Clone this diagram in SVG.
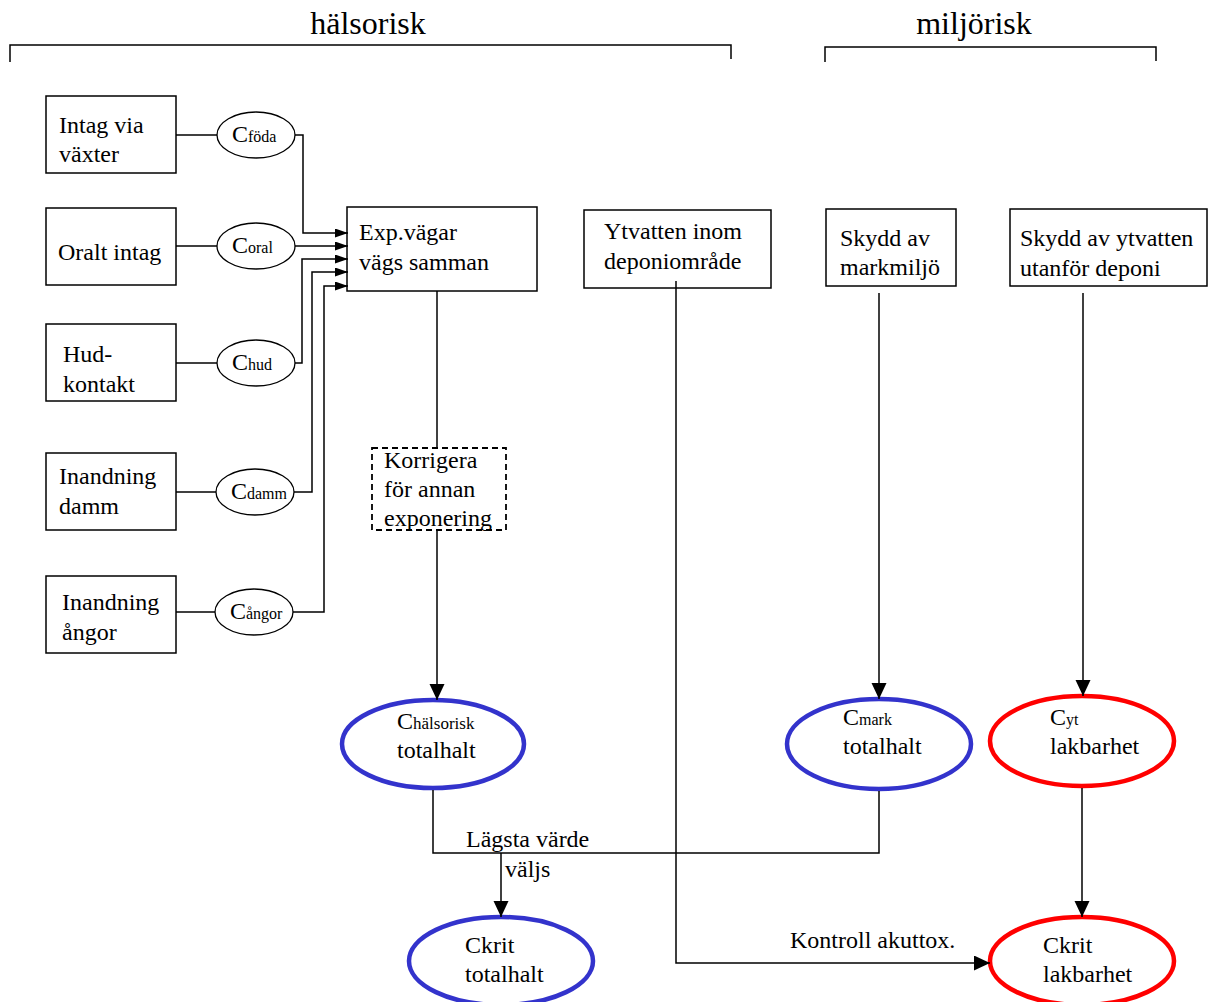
<svg xmlns="http://www.w3.org/2000/svg" width="1208" height="1002" viewBox="0 0 1208 1002">
<defs>
<style>
text{font-family:"Liberation Serif","Times New Roman",serif;font-size:24px;fill:#000}
.hdr{font-size:32px;text-anchor:middle}
.sub{font-size:16px}
.box{fill:#fff;stroke:#000;stroke-width:1.5}
.dash{fill:none;stroke:#000;stroke-width:1.8;stroke-dasharray:6,4}
.sm{fill:#fff;stroke:#000;stroke-width:1.3}
.blue{fill:#fff;stroke:#3333cc;stroke-width:4.5}
.red{fill:#fff;stroke:#ff0000;stroke-width:4.5}
.ln{fill:none;stroke:#000;stroke-width:1.5}
.a1{marker-end:url(#arS)}
.a2{marker-end:url(#arL)}
</style>
<marker id="arS" markerUnits="userSpaceOnUse" markerWidth="14" markerHeight="10" refX="13" refY="4.5" orient="auto"><path d="M0,0 L13,4.5 L0,9 z" fill="#000"/></marker>
<marker id="arL" markerUnits="userSpaceOnUse" markerWidth="17" markerHeight="16" refX="16" refY="7.5" orient="auto"><path d="M0,0 L16,7.5 L0,15 z" fill="#000"/></marker>
</defs>
<rect width="1208" height="1002" fill="#fff"/>
<g id="headers">
<text class="hdr" x="368" y="34">hälsorisk</text>
<path class="ln" d="M10,62 V45 H731 V59"/>
<text class="hdr" x="974" y="34">miljörisk</text>
<path class="ln" d="M825,62 V47 H1156 V61"/>
</g>
<g id="intag-vaxter"><rect class="box" x="46" y="96" width="130" height="77"/><text x="59" y="133">Intag via</text><text x="59" y="162">växter</text></g>
<g id="oralt-intag"><rect class="box" x="46" y="208" width="130" height="77"/><text x="58" y="260">Oralt intag</text></g>
<g id="hudkontakt"><rect class="box" x="46" y="324" width="130" height="77"/><text x="63" y="362">Hud-</text><text x="63" y="392">kontakt</text></g>
<g id="inandning-damm"><rect class="box" x="46" y="453" width="130" height="77"/><text x="59" y="484">Inandning</text><text x="59" y="514">damm</text></g>
<g id="inandning-angor"><rect class="box" x="46" y="576" width="130" height="77"/><text x="62" y="610">Inandning</text><text x="62" y="640">ångor</text></g>
<g id="c-foda"><ellipse class="sm" cx="256" cy="135" rx="39" ry="23"/><text x="232" y="142">C<tspan class="sub">föda</tspan></text></g>
<g id="c-oral"><ellipse class="sm" cx="256" cy="246" rx="39" ry="23"/><text x="232" y="253">C<tspan class="sub">oral</tspan></text></g>
<g id="c-hud"><ellipse class="sm" cx="256" cy="363" rx="39" ry="23"/><text x="232" y="370">C<tspan class="sub">hud</tspan></text></g>
<g id="c-damm"><ellipse class="sm" cx="255" cy="492" rx="39" ry="23"/><text x="231" y="499">C<tspan class="sub">damm</tspan></text></g>
<g id="c-angor"><ellipse class="sm" cx="254" cy="612" rx="39" ry="23"/><text x="230" y="619">C<tspan class="sub">ångor</tspan></text></g>
<g id="exp-vagar"><rect class="box" x="347" y="207" width="190" height="84"/><text x="359" y="240">Exp.vägar</text><text x="359" y="270">vägs samman</text></g>
<g id="korrigera"><rect class="dash" x="372" y="448" width="134" height="82"/><text x="384" y="468">Korrigera</text><text x="384" y="497">för annan</text><text x="384" y="526">exponering</text></g>
<g id="c-halsorisk"><ellipse class="blue" cx="433" cy="744" rx="91" ry="44"/><text x="397" y="729">C<tspan class="sub" style="font-size:17px">hälsorisk</tspan></text><text x="397" y="758">totalhalt</text></g>
<g id="ckrit-totalhalt"><ellipse class="blue" cx="501" cy="961" rx="92" ry="44"/><text x="465" y="953">Ckrit</text><text x="465" y="982">totalhalt</text></g>
<g id="ytvatten-inom"><rect class="box" x="584" y="210" width="187" height="78"/><text x="604" y="239">Ytvatten inom</text><text x="604" y="269">deponiområde</text></g>
<g id="skydd-markmiljo"><rect class="box" x="826" y="209" width="130" height="77"/><text x="840" y="246">Skydd av</text><text x="840" y="275">markmiljö</text></g>
<g id="skydd-ytvatten"><rect class="box" x="1010" y="209" width="197" height="77"/><text x="1020" y="246">Skydd av ytvatten</text><text x="1020" y="276">utanför deponi</text></g>
<g id="c-mark"><ellipse class="blue" cx="879" cy="744" rx="92" ry="45"/><text x="843" y="725">C<tspan class="sub">mark</tspan></text><text x="843" y="754">totalhalt</text></g>
<g id="c-yt"><ellipse class="red" cx="1082" cy="741" rx="92" ry="45"/><text x="1050" y="725">C<tspan class="sub">yt</tspan></text><text x="1050" y="754">lakbarhet</text></g>
<g id="ckrit-lakbarhet"><ellipse class="red" cx="1082" cy="961" rx="92" ry="44"/><text x="1043" y="953">Ckrit</text><text x="1043" y="982">lakbarhet</text></g>
<g id="connectors">
<path class="ln" d="M176,135 H217"/>
<path class="ln" d="M176,246 H217"/>
<path class="ln" d="M176,363 H217"/>
<path class="ln" d="M176,492 H216"/>
<path class="ln" d="M176,612 H215"/>
<path class="ln a1" d="M295,135 H303 V233 H348"/>
<path class="ln a1" d="M295,246 H348"/>
<path class="ln a1" d="M295,363 H302 V259 H348"/>
<path class="ln a1" d="M294,492 H312 V272 H348"/>
<path class="ln a1" d="M293,612 H324 V286 H348"/>
<path class="ln" d="M437,291 V448"/>
<path class="ln a2" d="M437,530 V700"/>
<path class="ln" d="M433,790 V853 H879 V791"/>
<path class="ln a2" d="M501,853 V917"/>
<text x="466" y="847">Lägsta värde</text>
<text x="505" y="877">väljs</text>
<path class="ln a2" d="M676,281 V963 H990"/>
<text x="790" y="948">Kontroll akuttox.</text>
<path class="ln a2" d="M879,293 V699"/>
<path class="ln a2" d="M1083,293 V696"/>
<path class="ln a2" d="M1082,788 V917"/>
</g>
</svg>
